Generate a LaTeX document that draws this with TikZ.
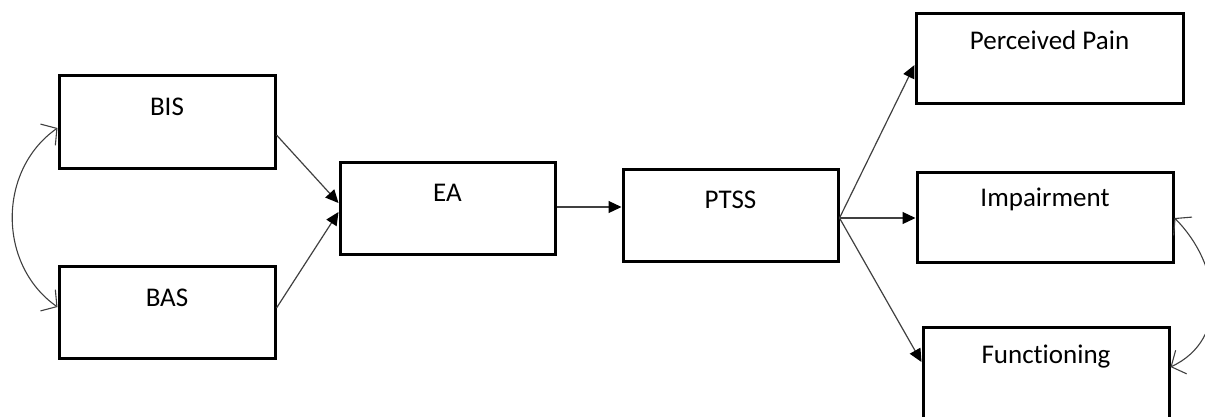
\documentclass[tikz,border=0pt]{standalone}
\usepackage{fontspec}
\setmainfont{Carlito}[Ligatures=NoCommon]
\usetikzlibrary{arrows.meta}
\begin{document}
\begin{tikzpicture}[x=1pt,y=-1pt,
  box/.style={draw=black, line width=3pt, rectangle, inner sep=0pt, fill=white},
  lbl/.style={anchor=base, inner sep=0pt, font=\fontsize{27}{32}\selectfont, text=black},
  path/.style={draw=black!75, line width=1.2pt, -{Triangle[length=13pt,width=12pt,color=black]}},
  cov/.style={draw=black!75, line width=1.1pt, {Straight Barb[length=11pt,width=26pt]}-{Straight Barb[length=11pt,width=26pt]}}]
  \useasboundingbox (0,0) rectangle (1205,416);

  % boxes
  \node[box, minimum width=216pt, minimum height=93pt] (BIS)  at (167,121.5) {};
  \node[box, minimum width=216pt, minimum height=92pt] (BAS)  at (167,312)   {};
  \node[box, minimum width=215pt, minimum height=92pt] (EA)   at (447.5,208) {};
  \node[box, minimum width=215pt, minimum height=92pt] (PTSS) at (730.5,215) {};
  \node[box, minimum width=267pt, minimum height=90pt] (PAIN) at (1049.5,58) {};
  \node[box, minimum width=256pt, minimum height=90pt] (IMP)  at (1045,217)  {};
  \node[box, minimum width=246pt, minimum height=92pt] (FUN)  at (1046,373)  {};

  % labels near the top of each box
  \node[lbl] (tBIS)  at ([yshift=-42pt]BIS.north)  {BIS};
  \node[lbl] (tBAS)  at ([yshift=-42pt]BAS.north)  {BAS};
  \node[lbl] (tEA)   at ([yshift=-41pt]EA.north)   {EA};
  \node[lbl] (tPTSS) at ([yshift=-41pt]PTSS.north) {PTSS};
  \node[lbl] (tPAIN) at ([yshift=-38pt]PAIN.north) {Perceived Pain};
  \node[lbl] (tIMP)  at ([yshift=-36pt]IMP.north)  {Impairment};
  \node[lbl] (tFUN)  at ([yshift=-38pt]FUN.north)  {Functioning};

  % directed paths
  \draw[path] ([yshift=-13.5pt]BIS.east) -- ([yshift=5pt]EA.west);
  \draw[path] ([yshift=4pt]BAS.east) -- ([yshift=-4pt]EA.west);
  \draw[path] ([yshift=1pt]EA.east) -- ([yshift=1pt]EA.east -| PTSS.west);
  \draw[path] ([yshift=-3pt]PTSS.east) -- ([yshift=-7pt]PAIN.west);
  \draw[path] ([yshift=-3pt]PTSS.east) -- ([yshift=-3pt]PTSS.east -| IMP.west);
  \draw[path] ([yshift=-3pt]PTSS.east) -- ([yshift=11pt]FUN.west);

  % covariances
  \draw[cov] ([yshift=-6.5pt]BIS.west) to[out=215,in=145,looseness=1.05] ([yshift=5pt]BAS.west);
  \draw[cov] ([yshift=-1pt]IMP.east) to[out=-45,in=25,looseness=1.12] ([yshift=6pt]FUN.east);
\end{tikzpicture}
\end{document}
